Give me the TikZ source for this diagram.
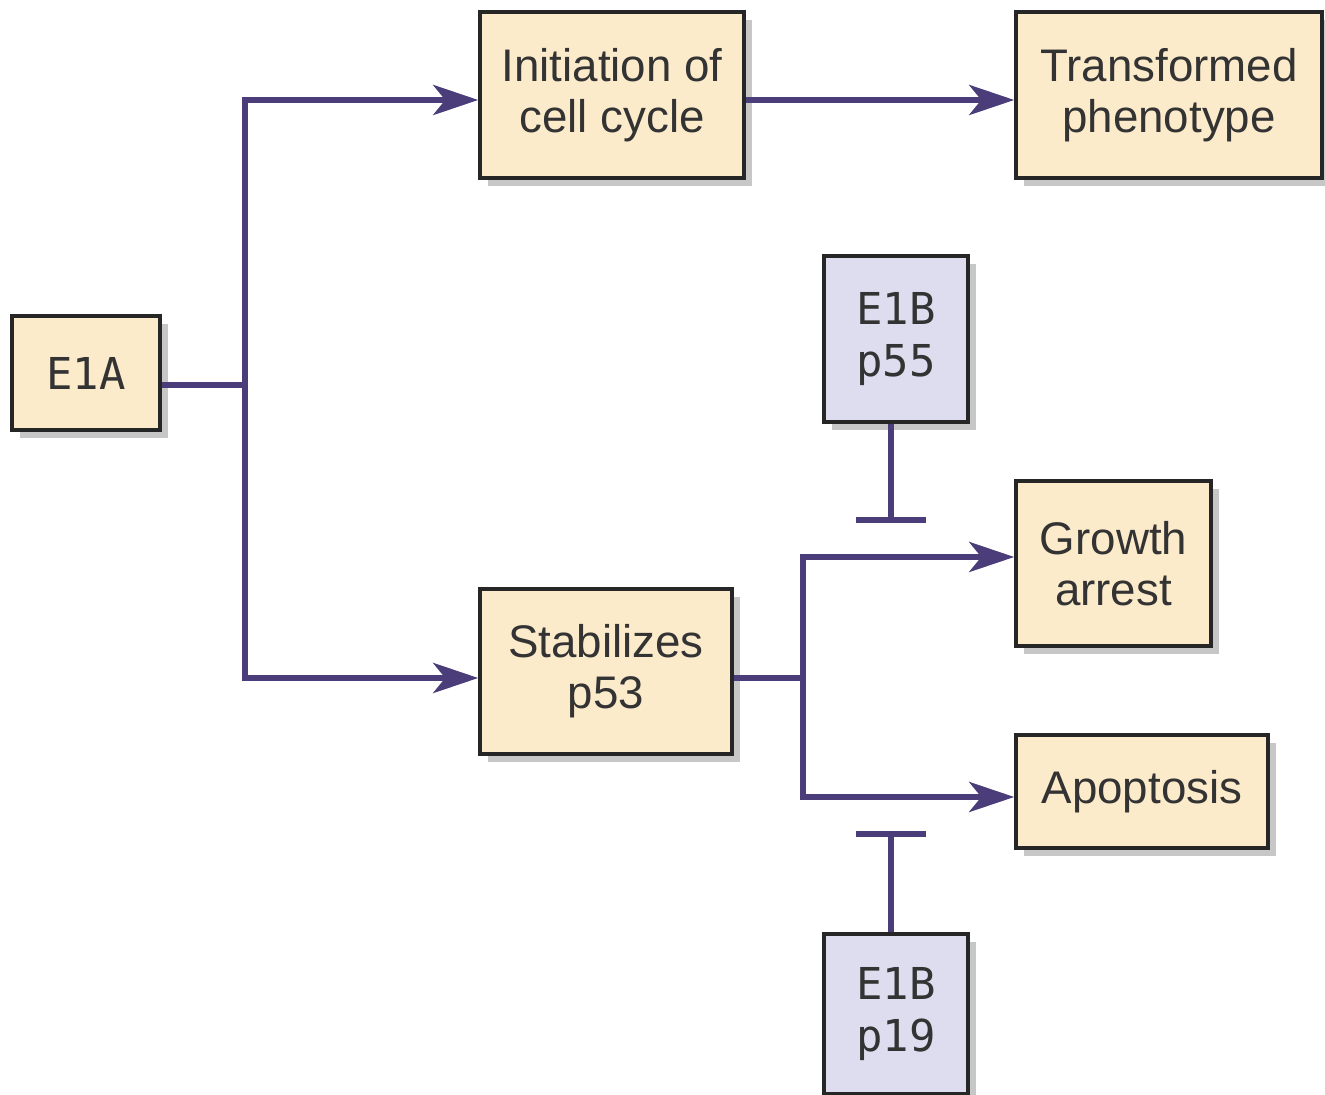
\documentclass[tikz,border=0pt]{standalone}
\usepackage{fontspec}
\setmainfont{Liberation Sans}
\newfontfamily\boxmono{DejaVu Sans Mono}
\usetikzlibrary{arrows.meta,shadows}
\definecolor{pathway}{HTML}{4A3D7A}
\definecolor{stepfill}{HTML}{FCEBCB}
\definecolor{viralfill}{HTML}{DEDDF0}
\definecolor{boxtext}{HTML}{333333}
\tikzset{
  stage/.style={draw=black!85, line width=1pt, fill=stepfill, text=boxtext,
    align=center, inner sep=0pt, font=\fontsize{13}{14.6}\selectfont,
    drop shadow={shadow xshift=0.08cm, shadow yshift=-0.08cm, fill=black!22, opacity=1}},
  gene/.style={stage, font=\boxmono\fontsize{12.5}{14.6}\selectfont},
  viral/.style={gene, fill=viralfill},
  link/.style={draw=pathway, line width=1.7pt},
}
\begin{document}
\begin{tikzpicture}[>={Stealth[length=0.45cm,width=0.3cm,inset=0.12cm]}]
    \useasboundingbox (0,0) rectangle (13.25,-10.95);
    \node[gene, minimum width=1.48cm, minimum height=1.14cm] (E1A) at (0.86,-3.73) {E1A};
    \node[stage, minimum width=2.64cm, minimum height=1.66cm] (init) at (6.12,-0.95) {Initiation of\\cell cycle};
    \node[stage, minimum width=3.06cm, minimum height=1.66cm] (trans) at (11.69,-0.95) {Transformed\\phenotype};
    \node[stage, minimum width=2.52cm, minimum height=1.65cm] (stab) at (6.06,-6.715) {Stabilizes\\p53};
    \node[stage, minimum width=1.95cm, minimum height=1.65cm] (growth) at (11.135,-5.635) {Growth\\arrest};
    \node[stage, minimum width=2.52cm, minimum height=1.13cm] (apop) at (11.42,-7.915) {Apoptosis};
    \node[viral, minimum width=1.44cm, minimum height=1.66cm] (p55) at (8.96,-3.39) {E1B\\p55};
    \node[viral, minimum width=1.44cm, minimum height=1.6cm] (p19) at (8.96,-10.14) {E1B\\p19};
    % junctions and rows of the connectors
    \coordinate (fork) at (2.45,-3.85);
    \coordinate (rowI) at (2.45,-1.00);
    \coordinate (rowS) at (2.45,-6.78);
    \coordinate (branch) at (8.03,-6.78);
    \coordinate (rowG) at (8.03,-5.57);
    \coordinate (rowA) at (8.03,-7.97);
    \coordinate (stop55) at (8.91,-5.23);
    \coordinate (stop19) at (8.91,-8.31);
    \draw[link] (E1A.east |- fork) -- (fork);
    \draw[link,<->] (init.west |- rowI) -- (rowI) -- (rowS) -- (stab.west |- rowS);
    \draw[link,->] (init.east |- rowI) -- (trans.west |- rowI);
    \draw[link] (stab.east |- branch) -- (branch);
    \draw[link,<->] (growth.west |- rowG) -- (rowG) -- (rowA) -- (apop.west |- rowA);
    \draw[link,-{Bar[width=0.7cm]}] (p55.south -| stop55) -- (stop55);
    \draw[link,-{Bar[width=0.7cm]}] (p19.north -| stop19) -- (stop19);
\end{tikzpicture}
\end{document}
